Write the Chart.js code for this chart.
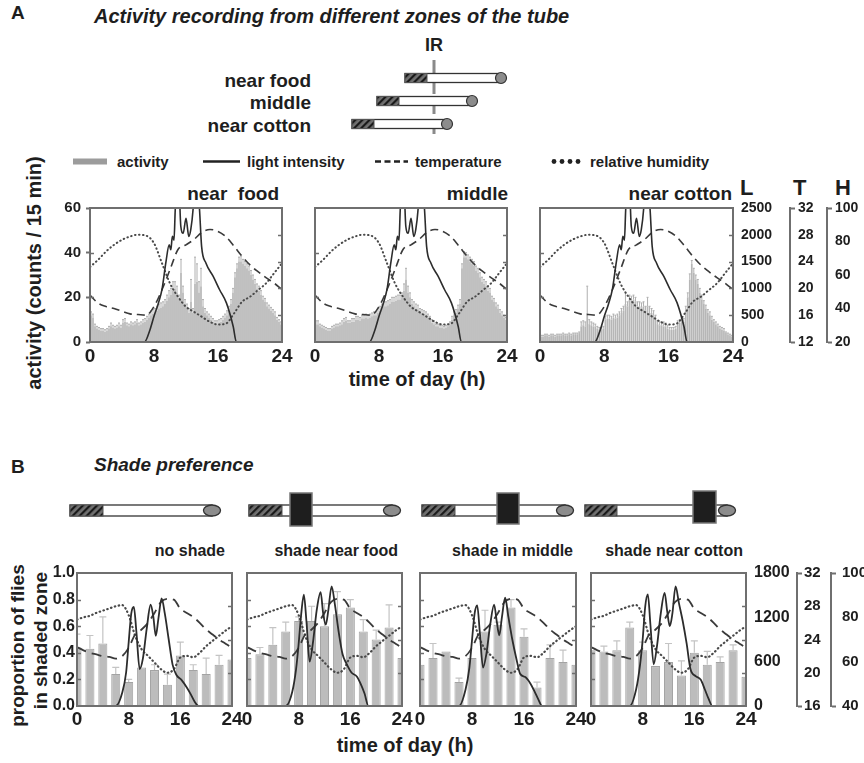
<!DOCTYPE html>
<html>
<head>
<meta charset="utf-8">
<title>Activity recording and shade preference</title>
<script src="https://cdn.jsdelivr.net/npm/chart.js"></script>
<style>
  body { margin: 0; width: 864px; height: 763px; position: relative; overflow: hidden; background: #fff;
         font-family: "Liberation Sans", Arial, sans-serif; font-weight: bold; color: #1e1e1e; }
  .t { position: absolute; line-height: 1; white-space: pre; }
  .r { text-align: right; }
  .c { text-align: center; }
  .rot { transform: rotate(-90deg); }
  canvas { position: absolute; }
  svg { position: absolute; left: 0; top: 0; }
</style>
</head>
<body>
<svg width="864" height="763">
  <defs>
    <pattern id="hatch" width="5" height="5" patternUnits="userSpaceOnUse" patternTransform="rotate(45)">
      <rect width="5" height="5" fill="#707070"/>
      <rect width="2.2" height="5" fill="#1a1a1a"/>
    </pattern>
  </defs>
  <!-- panel A tubes -->
  <line x1="434" y1="60" x2="434" y2="139" stroke="#8a8a8a" stroke-width="3" stroke-dasharray="14 6"/>
  <rect x="405" y="73.5" width="97" height="9" fill="#fff" stroke="#333" stroke-width="1.3"/>
  <rect x="405" y="73.5" width="22" height="9" fill="url(#hatch)" stroke="#555" stroke-width="1"/>
  <circle cx="501" cy="78" r="5.5" fill="#8c8c8c" stroke="#333" stroke-width="1.2"/>
  <rect x="377" y="96.5" width="95" height="9" fill="#fff" stroke="#333" stroke-width="1.3"/>
  <rect x="377" y="96.5" width="22" height="9" fill="url(#hatch)" stroke="#555" stroke-width="1"/>
  <circle cx="472" cy="101" r="5.5" fill="#8c8c8c" stroke="#333" stroke-width="1.2"/>
  <rect x="352" y="119.5" width="95" height="9" fill="#fff" stroke="#333" stroke-width="1.3"/>
  <rect x="352" y="119.5" width="22" height="9" fill="url(#hatch)" stroke="#555" stroke-width="1"/>
  <circle cx="447" cy="124" r="5.5" fill="#8c8c8c" stroke="#333" stroke-width="1.2"/>
  <!-- legend samples -->
  <rect x="73" y="158.5" width="34" height="6" fill="#9c9c9c"/>
  <line x1="203" y1="161.5" x2="240" y2="161.5" stroke="#222" stroke-width="2.5"/>
  <line x1="375" y1="161.5" x2="408" y2="161.5" stroke="#222" stroke-width="2.5" stroke-dasharray="6 3.5"/>
  <g fill="#222">
    <circle cx="554" cy="161.5" r="2.4"/><circle cx="562" cy="161.5" r="2.4"/>
    <circle cx="570" cy="161.5" r="2.4"/><circle cx="578" cy="161.5" r="2.4"/>
  </g>
  <!-- panel B tubes -->
  <g stroke-width="1.3">
    <rect x="70" y="505" width="142" height="11" fill="#fff" stroke="#333"/>
    <rect x="70" y="505" width="33" height="11" fill="url(#hatch)" stroke="#555" stroke-width="1"/>
    <ellipse cx="212" cy="510.5" rx="8.5" ry="5.5" fill="#8c8c8c" stroke="#333"/>

    <rect x="249" y="505" width="143" height="11" fill="#fff" stroke="#333"/>
    <rect x="249" y="505" width="33" height="11" fill="url(#hatch)" stroke="#555" stroke-width="1"/>
    <rect x="290" y="493" width="22" height="33" fill="#1e1e1e" stroke="#777" stroke-width="1.5"/>
    <ellipse cx="392" cy="510.5" rx="8.5" ry="5.5" fill="#8c8c8c" stroke="#333"/>

    <rect x="422" y="505" width="143" height="11" fill="#fff" stroke="#333"/>
    <rect x="422" y="505" width="33" height="11" fill="url(#hatch)" stroke="#555" stroke-width="1"/>
    <rect x="497" y="493" width="22" height="31" fill="#1e1e1e" stroke="#777" stroke-width="1.5"/>
    <ellipse cx="565" cy="510.5" rx="8.5" ry="5.5" fill="#8c8c8c" stroke="#333"/>

    <rect x="585" y="505" width="142" height="11" fill="#fff" stroke="#333"/>
    <rect x="585" y="505" width="32" height="11" fill="url(#hatch)" stroke="#555" stroke-width="1"/>
    <rect x="693" y="491" width="23" height="32" fill="#1e1e1e" stroke="#777" stroke-width="1.5"/>
    <ellipse cx="727" cy="510.5" rx="8.5" ry="5.5" fill="#8c8c8c" stroke="#333"/>
  </g>
</svg>

<!-- panel A text -->
<div class="t" style="left:11px;top:3px;font-size:19px">A</div>
<div class="t" style="left:94px;top:6px;font-size:20px;font-style:italic">Activity recording from different zones of the tube</div>
<div class="t c" style="left:384px;top:36px;width:100px;font-size:18px">IR</div>
<div class="t r" style="left:111px;top:71px;width:200px;font-size:19px">near food</div>
<div class="t r" style="left:111px;top:93px;width:200px;font-size:19px">middle</div>
<div class="t r" style="left:111px;top:116px;width:200px;font-size:19px">near cotton</div>
<div class="t" style="left:117px;top:154px;font-size:15px">activity</div>
<div class="t" style="left:247px;top:154px;font-size:15px">light intensity</div>
<div class="t" style="left:415px;top:154px;font-size:15px">temperature</div>
<div class="t" style="left:590px;top:154px;font-size:15px">relative humidity</div>
<div class="t c rot" style="left:-116px;top:263px;width:300px;font-size:20px">activity (counts / 15 min)</div>
<div class="t r" style="left:79px;top:184px;width:200px;font-size:19px">near  food</div>
<div class="t r" style="left:308px;top:184px;width:200px;font-size:19px">middle</div>
<div class="t r" style="left:532px;top:184px;width:200px;font-size:19px">near cotton</div>
<div class="t" style="left:740px;top:177px;font-size:22px">L</div>
<div class="t" style="left:793px;top:177px;font-size:22px">T</div>
<div class="t" style="left:835px;top:177px;font-size:22px">H</div>
<div class="t c" style="left:267px;top:369px;width:300px;font-size:20px">time of day (h)</div>

<!-- panel B text -->
<div class="t" style="left:11px;top:457px;font-size:19px">B</div>
<div class="t" style="left:94px;top:455px;font-size:19px;font-style:italic">Shade preference</div>
<div class="t r" style="left:25px;top:543px;width:200px;font-size:16px">no shade</div>
<div class="t r" style="left:198px;top:543px;width:200px;font-size:16px">shade near food</div>
<div class="t r" style="left:373px;top:543px;width:200px;font-size:16px">shade in middle</div>
<div class="t r" style="left:543px;top:543px;width:200px;font-size:16px">shade near cotton</div>
<div class="t c rot" style="left:-133px;top:636px;width:300px;font-size:19px">proportion of flies</div>
<div class="t c rot" style="left:-110px;top:631px;width:300px;font-size:19px">in shaded zone</div>
<div class="t c" style="left:255px;top:735px;width:300px;font-size:20px">time of day (h)</div>

<script>
// ---------- data ----------
const timeTicks = [0, 8, 16, 24];
const activityTicks = [0, 20, 40, 60];
const lightTicksA = [0, 500, 1000, 1500, 2000, 2500];
const tempTicksA = [12, 16, 20, 24, 28, 32];
const humTicksA = [20, 40, 60, 80, 100];
const propTicks = [0, 0.2, 0.4, 0.6, 0.8, 1.0];
const lightTicksB = [0, 600, 1200, 1800];
const tempTicksB = [16, 20, 24, 28, 32];
const humTicksB = [40, 60, 80, 100];

// environment, panel A (hourly)
const envHours = [0, 1, 2, 3, 4, 5, 6, 7, 8, 9, 10, 11, 12, 13, 14, 15, 16, 17, 18, 19, 20, 21, 22, 23, 24];
const tempA = [19, 17.8, 17.3, 17, 16.6, 16.2, 16.1, 16, 17.3, 19.8, 22.8, 25.8, 26.5, 27.3, 28.4, 28.8, 28.5, 27.7, 26.3, 24.8, 23.5, 22.5, 21.6, 20.8, 19.8];
const humA = [64.8, 69, 74, 78, 81, 83, 84, 83.5, 79, 67, 55, 47, 41, 38, 35, 32, 30.4, 31, 37, 44, 47, 51, 55, 61, 67];
const lightHoursA = [0, 6.8, 7.5, 8, 8.5, 9, 9.5, 9.9, 10.1, 10.3, 10.5, 10.65, 11, 11.35, 11.65, 12, 12.35, 12.6, 12.9, 13.25, 13.7, 13.95, 14.5, 15.4, 16.2, 17.05, 17.9, 18.3, 24];
const lightA = [0, 0, 230, 480, 700, 980, 1500, 1815, 1720, 1970, 1900, 2450, 3400, 2160, 2030, 2310, 1970, 2100, 2500, 3400, 2450, 1785, 1470, 1225, 975, 730, 290, 0, 0];

// activity, counts per 15 min bin (96 bins)
const actFood = [
  12, 11, 7, 6, 5.5, 5, 5, 4.5,
  5, 6, 7, 6.5, 6, 6.5, 7, 6.5,
  8.5, 9, 7.5, 7, 8, 7.5, 8, 8.5,
  7.5, 8, 8.5, 9, 10, 11, 12, 12.5,
  13, 14, 15, 15.5, 16, 17, 18.5, 20,
  21, 23, 24, 22, 19, 31, 22, 17,
  15, 13, 18, 13, 26, 27, 22, 25,
  16, 13, 12, 11, 10, 9, 8, 8,
  8.5, 9, 10, 11, 12, 14, 17, 22,
  29, 33, 36, 36, 35, 34, 33, 32,
  30, 28, 26, 24, 23, 21, 19, 18,
  16, 15, 14, 13, 12, 10, 9, 8];
const actErrFood = [
  1.5, 1.5, 1, 1, 1, 1, 1, 1,
  1, 1, 1.5, 1, 1, 1, 1.5, 1,
  1.5, 1.5, 1, 1, 1, 1, 1, 1.5,
  1, 1, 1.5, 1.5, 1.5, 1.5, 2, 2,
  2, 2, 2, 2, 2, 2, 2.5, 3,
  3, 4, 3, 3, 2, 6, 3, 2,
  2, 2, 10, 2, 12, 8, 5, 8,
  3, 2, 1.5, 1.5, 1.5, 1.5, 1.5, 1.5,
  1.5, 1.5, 1.5, 1.5, 2, 2, 2, 2,
  2, 2, 2, 2.5, 2, 2, 2, 2,
  2, 2, 2, 2, 2, 2, 1.5, 1.5,
  1.5, 1.5, 1.5, 1.5, 1.5, 1, 1, 1];
const actMiddle = [
  8, 8, 7, 6.5, 6, 5.5, 5, 5,
  6, 6.5, 7, 7, 7.5, 8, 9, 9.5,
  8.5, 8.5, 9, 9, 10, 10, 9.5, 10.5,
  10.5, 11, 10.5, 11, 11.5, 12, 12, 13,
  14, 15, 16, 16, 16.5, 17, 18, 18,
  18.5, 19, 19, 20, 23, 28, 22, 20,
  17, 16, 15, 14.5, 13.5, 13, 12.5, 12,
  11, 10, 8.5, 8, 7, 7, 6.5, 6.5,
  6, 6.5, 7, 8, 10, 12, 13, 15,
  17, 33, 38, 38, 37, 36, 35, 34,
  32, 31, 29, 27, 26, 25, 23, 22,
  19, 18, 16, 15, 13, 12, 11, 10];
const actErrMiddle = [
  1.5, 1.5, 1, 1, 1, 1, 1, 1,
  1, 1, 1, 1, 1, 1.5, 1.5, 1.5,
  1, 1, 1.5, 1.5, 1.5, 1.5, 1.5, 1.5,
  1.5, 1.5, 1.5, 1.5, 1.5, 1.5, 1.5, 2,
  2, 2, 2, 2, 2, 2, 2, 2,
  2, 2, 2, 2, 3, 5, 3, 2,
  2, 2, 2, 2, 1.5, 1.5, 1.5, 1.5,
  1.5, 1.5, 1.5, 1.5, 1, 1, 1, 1,
  1, 1, 1, 1, 1.5, 1.5, 1.5, 1.5,
  2, 2, 2.5, 2, 2, 2, 2, 2,
  2, 2, 2, 2, 2, 2, 2, 2,
  1.5, 1.5, 1.5, 1.5, 1.5, 1.5, 1, 1];
const actCotton = [
  2.5, 2.5, 3, 3, 2.5, 3, 3, 2.5,
  3, 3, 3, 3.5, 3, 3, 3.5, 3,
  3.5, 3.5, 3.5, 4, 7, 7.5, 7, 13,
  8, 7.5, 7, 7, 6, 5.5, 5.5, 6,
  10, 10.5, 10.5, 10, 11, 10.5, 11, 12,
  13, 14, 17, 16, 19, 18.5, 19, 18,
  16, 16, 15.5, 16, 14, 16, 13, 13,
  12, 10, 8, 7.5, 7.5, 7, 7, 6,
  5.5, 5.5, 5.5, 6, 8, 8.5, 9, 9,
  14, 20, 28, 35, 31, 28, 26, 22,
  19, 17, 15, 13, 12, 10, 9, 8,
  7, 6, 5.5, 5, 4, 3.5, 3, 2.5];
const actErrCotton = [
  0.5, 0.5, 0.5, 0.5, 0.5, 0.5, 0.5, 0.5,
  0.5, 0.5, 0.5, 0.5, 0.5, 0.5, 0.5, 0.5,
  0.5, 0.5, 0.5, 0.5, 2, 2, 2, 12,
  2, 1.5, 1.5, 1, 1, 1, 1, 1,
  1.5, 1.5, 1.5, 1.5, 1.5, 1.5, 1.5, 1.5,
  2, 2, 5, 2, 2, 2, 2, 2,
  2, 2, 2, 2, 2, 4, 3, 2,
  2, 2, 1.5, 1.5, 1.5, 2, 1.5, 1.5,
  1, 1, 1, 1, 1.5, 1.5, 1.5, 1.5,
  2, 2, 2.5, 1.5, 2, 2, 2, 2,
  2, 1.5, 1.5, 1.5, 1.5, 1.5, 1, 1,
  1, 1, 1, 1, 0.5, 0.5, 0.5, 0.5];

// environment, panel B
const tempB = [23.1, 22.7, 22.4, 22.2, 22.0, 21.9, 21.7, 22.0, 23.0, 24.6, 25.2, 26.0, 27.2, 28.5, 28.9, 28.8, 27.7, 27.2, 26.7, 26.0, 25.2, 24.6, 24.0, 23.5, 23.0];
const humB = [79, 80, 80.7, 82, 83, 84, 85, 85.5, 81, 71.7, 65.6, 62.6, 59.6, 56.6, 55, 56.6, 61.9, 62.6, 62, 64, 67, 69.4, 71.7, 74, 76];
const lightHoursB = [0, 6, 7, 7.6, 8, 8.4, 8.8, 9.2, 9.7, 10.2, 10.8, 11.4, 11.8, 12.2, 12.6, 13.1, 13.6, 14.2, 14.8, 15.4, 16.2, 17, 17.6, 18.2, 18.8, 24];
const lightNoShade = [0, 0, 180, 450, 860, 1250, 1340, 1000, 500, 640, 1050, 1370, 1220, 950, 1180, 1455, 1250, 900, 560, 420, 350, 250, 160, 60, 0, 0];
const lightShadeFood = [0, 0, 190, 500, 844, 1250, 1507, 1150, 600, 850, 1300, 1540, 1250, 1100, 1300, 1620, 1380, 1000, 700, 573, 450, 400, 300, 170, 0, 0];
const lightShadeMiddle = [0, 0, 220, 520, 889, 1250, 1362, 1000, 520, 700, 1100, 1371, 1150, 956, 1200, 1466, 1205, 900, 650, 437, 392, 302, 200, 90, 0, 0];
const lightShadeCotton = [0, 0, 230, 560, 900, 1350, 1510, 1100, 565, 800, 1250, 1530, 1280, 1080, 1250, 1620, 1400, 1150, 850, 500, 405, 355, 230, 100, 0, 0];

// proportion of flies in the shaded zone, 2 h bins
const shadeHours = [0, 2, 4, 6, 8, 10, 12, 14, 16, 18, 20, 22, 24];
const shadeNone = [0.44, 0.43, 0.47, 0.24, 0.18, 0.29, 0.27, 0.16, 0.38, 0.27, 0.24, 0.31, 0.35];
const shadeErrNone = [0.10, 0.10, 0.20, 0.05, 0.02, 0, 0.04, 0.08, 0.10, 0.04, 0.12, 0.07, 0];
const shadeFood = [0.36, 0.39, 0.46, 0.56, 0.64, 0.64, 0.60, 0.69, 0.74, 0.56, 0.50, 0.59, 0.36];
const shadeErrFood = [0, 0.05, 0.13, 0.07, 0.03, 0.11, 0.17, 0.17, 0.06, 0.09, 0.07, 0.17, 0];
const shadeMiddle = [0.31, 0.36, 0.41, 0.18, 0.36, 0.56, 0.61, 0.74, 0.52, 0.14, 0.36, 0.33, 0.31];
const shadeErrMiddle = [0, 0.11, 0, 0.03, 0, 0.16, 0.02, 0.06, 0.06, 0.04, 0.10, 0.09, 0];
const shadeCotton = [0.42, 0.41, 0.42, 0.59, 0.42, 0.30, 0.33, 0.23, 0.40, 0.31, 0.33, 0.42, 0.22];
const shadeErrCotton = [0, 0.04, 0.07, 0.04, 0.06, 0, 0.14, 0.11, 0.09, 0.10, 0.04, 0.04, 0];

// ---------- drawing ----------
const FONT = '"Liberation Sans", Arial, sans-serif';
const INK = '#1e1e1e';
const LINE = '#6f6f6f';
const bold = size => ({ family: FONT, size, weight: 'bold' });
const pts = (xs, ys) => ys.map((y, i) => ({ x: xs[i], y }));
const binHours = actFood.map((_, i) => i * 0.25 + 0.125);

// frame round the plot, inner tick marks, and upper error whiskers on bars
const framePlugin = {
  id: 'frame',
  afterDatasetDraw(chart, args) {
    const ds = chart.data.datasets[args.index];
    if (!ds.errors) return;
    const a = chart.chartArea, ctx = chart.ctx, ys = chart.scales.y;
    ctx.save();
    ctx.beginPath();
    ctx.rect(a.left, a.top, a.right - a.left, a.bottom - a.top);
    ctx.clip();
    ctx.strokeStyle = ds.errColor;
    ctx.lineWidth = ds.errWidth;
    args.meta.data.forEach((bar, i) => {
      const e = ds.errors[i];
      if (!e) return;
      const top = ys.getPixelForValue(ds.data[i].y + e);
      ctx.beginPath();
      ctx.moveTo(bar.x, bar.y);
      ctx.lineTo(bar.x, top);
      ctx.moveTo(bar.x - ds.cap, top);
      ctx.lineTo(bar.x + ds.cap, top);
      ctx.stroke();
    });
    ctx.restore();
  },
  afterDraw(chart, args, opts) {
    const a = chart.chartArea, ctx = chart.ctx;
    ctx.save();
    ctx.strokeStyle = LINE;
    ctx.lineWidth = 2;
    ctx.strokeRect(a.left, a.top, a.right - a.left, a.bottom - a.top);
    ctx.lineWidth = 1.5;
    [['left', 1], ['right', -1]].forEach(([side, dir]) => {
      const o = opts[side];
      if (!o) return;
      const sc = chart.scales[o.scale];
      const x = side === 'left' ? a.left : a.right;
      o.values.slice(1, -1).forEach(v => {
        const y = Math.round(sc.getPixelForValue(v)) + 0.5;
        ctx.beginPath();
        ctx.moveTo(x, y);
        ctx.lineTo(x + dir * 4, y);
        ctx.stroke();
      });
    });
    ctx.restore();
  }
};

function xAxis(size, pad, height) {
  return {
    type: 'linear', min: 0, max: 24, offset: false,
    afterBuildTicks: s => { s.ticks = timeTicks.map(v => ({ value: v })); },
    afterFit: s => { s.height = height; },
    grid: { display: false, drawTicks: false }, border: { display: false },
    ticks: { padding: pad, color: INK, font: bold(size), maxRotation: 0, autoSkip: false }
  };
}

function vAxis(position, values, o) {
  const last = values.length - 1;
  const axis = {
    type: 'linear', position, min: values[0], max: values[last],
    display: !!o.width, weight: o.weight || 0,
    afterBuildTicks: s => { s.ticks = values.map(v => ({ value: v })); },
    grid: {
      display: !!o.tick, drawOnChartArea: false, drawTicks: !!o.tick, tickLength: o.tick || 0,
      tickWidth: 2, color: LINE,
      tickColor: o.endsOnly ? (c => (c.index === 0 || c.index === last) ? LINE : 'rgba(0,0,0,0)') : LINE
    },
    border: { display: !!o.border, color: LINE, width: 2 },
    ticks: { padding: o.pad || 0, color: INK, font: bold(o.size || 14), autoSkip: false,
             callback: o.fmt || (v => String(v)) }
  };
  if (o.width) axis.afterFit = s => { s.width = o.width; };
  return axis;
}

// plot = wanted chart area on the page, m = room round it inside the canvas
function makeChart(plot, m, axesLeft, axesRight, datasets, scales, frame) {
  const c = document.createElement('canvas');
  const w = plot.w + m.l + m.r, h = plot.h + m.t + m.b;
  c.width = w;
  c.height = h;
  c.style.left = (plot.x - m.l) + 'px';
  c.style.top = (plot.y - m.t) + 'px';
  document.body.appendChild(c);
  return new Chart(c, {
    type: 'bar',
    data: { datasets },
    options: {
      responsive: false, animation: false, devicePixelRatio: 1,
      layout: { autoPadding: false,
                padding: { left: axesLeft ? 0 : m.l, right: axesRight ? 0 : m.r, top: m.t, bottom: 0 } },
      plugins: { legend: { display: false }, tooltip: { enabled: false }, frame },
      scales
    },
    plugins: [framePlugin]
  });
}

function lineSet(xs, ys, axis, color, width, dash, cap) {
  return { type: 'line', data: pts(xs, ys), yAxisID: axis, borderColor: color, borderWidth: width,
           borderDash: dash || [], borderCapStyle: cap || 'butt', pointRadius: 0, fill: false,
           cubicInterpolationMode: 'monotone', order: 1 };
}

// panel A
function activitySets(values, errors) {
  return [
    { type: 'bar', data: pts(binHours, values), errors, errColor: '#b0b0b0', errWidth: 1, cap: 1,
      backgroundColor: '#b6b6b6', barPercentage: 0.85, categoryPercentage: 1, order: 2 },
    lineSet(lightHoursA, lightA, 'yL', '#2c2c2c', 1.6),
    lineSet(envHours, tempA, 'yT', '#3a3a3a', 1.6, [8, 5]),
    lineSet(envHours, humA, 'yH', '#4a4a4a', 2, [0.5, 3.5], 'round')
  ];
}
const frameA = { left: { scale: 'y', values: activityTicks }, right: { scale: 'yT', values: tempTicksA } };
const hiddenA = () => ({ yL: vAxis('right', lightTicksA, {}), yT: vAxis('right', tempTicksA, {}), yH: vAxis('right', humTicksA, {}) });

makeChart({ x: 90, y: 208, w: 192, h: 134 }, { l: 36, r: 14, t: 22, b: 28 }, true, false,
  activitySets(actFood, actErrFood),
  Object.assign({ x: xAxis(19, 3, 28),
    y: vAxis('left', activityTicks, { width: 36, tick: 4, pad: 5, size: 15 }) }, hiddenA()),
  frameA);

makeChart({ x: 315, y: 208, w: 192, h: 134 }, { l: 14, r: 14, t: 22, b: 28 }, false, false,
  activitySets(actMiddle, actErrMiddle),
  Object.assign({ x: xAxis(19, 3, 28), y: vAxis('left', activityTicks, {}) }, hiddenA()),
  frameA);

makeChart({ x: 540, y: 208, w: 193, h: 134 }, { l: 14, r: 131, t: 22, b: 28 }, false, true,
  activitySets(actCotton, actErrCotton),
  { x: xAxis(19, 3, 28),
    y: vAxis('left', activityTicks, {}),
    yL: vAxis('right', lightTicksA, { width: 57, pad: 8, size: 14, weight: 1 }),
    yT: vAxis('right', tempTicksA, { width: 37, tick: 5, border: true, endsOnly: true, pad: 3, size: 14, weight: 2 }),
    yH: vAxis('right', humTicksA, { width: 37, tick: 5, border: true, endsOnly: true, pad: 3, size: 14, weight: 3 }) },
  frameA);

// panel B
function shadeSets(values, errors, light) {
  return [
    { type: 'bar', data: pts(shadeHours, values), errors, errColor: '#c4c4c4', errWidth: 1.2, cap: 3.5,
      backgroundColor: '#bcbcbc', borderColor: '#a3a3a3', borderWidth: 1,
      barPercentage: 0.7, categoryPercentage: 1, order: 2 },
    lineSet(lightHoursB, light, 'yL', '#2c2c2c', 1.8),
    lineSet(envHours, tempB, 'yT', '#3a3a3a', 1.8, [10, 6]),
    lineSet(envHours, humB, 'yH', '#4a4a4a', 2.2, [0.5, 3.5], 'round')
  ];
}
const frameB = { left: { scale: 'y', values: propTicks }, right: { scale: 'yT', values: tempTicksB } };
const hiddenB = () => ({ yL: vAxis('right', lightTicksB, {}), yT: vAxis('right', tempTicksB, {}), yH: vAxis('right', humTicksB, {}) });

makeChart({ x: 77, y: 573, w: 155, h: 133 }, { l: 32, r: 14, t: 22, b: 26 }, true, false,
  shadeSets(shadeNone, shadeErrNone, lightNoShade),
  Object.assign({ x: xAxis(19, 2, 26),
    y: vAxis('left', propTicks, { width: 32, pad: 2, size: 16, fmt: v => v.toFixed(1) }) }, hiddenB()),
  frameB);

makeChart({ x: 247, y: 573, w: 155, h: 133 }, { l: 14, r: 14, t: 22, b: 26 }, false, false,
  shadeSets(shadeFood, shadeErrFood, lightShadeFood),
  Object.assign({ x: xAxis(19, 2, 26), y: vAxis('left', propTicks, {}) }, hiddenB()),
  frameB);

makeChart({ x: 420, y: 573, w: 156, h: 133 }, { l: 14, r: 14, t: 22, b: 26 }, false, false,
  shadeSets(shadeMiddle, shadeErrMiddle, lightShadeMiddle),
  Object.assign({ x: xAxis(19, 2, 26), y: vAxis('left', propTicks, {}) }, hiddenB()),
  frameB);

makeChart({ x: 591, y: 573, w: 155, h: 133 }, { l: 14, r: 118, t: 22, b: 26 }, false, true,
  shadeSets(shadeCotton, shadeErrCotton, lightShadeCotton),
  { x: xAxis(19, 2, 26),
    y: vAxis('left', propTicks, {}),
    yL: vAxis('right', lightTicksB, { width: 51, pad: 8, size: 16, weight: 1 }),
    yT: vAxis('right', tempTicksB, { width: 34, tick: 5, border: true, endsOnly: true, pad: 2, size: 15, weight: 2 }),
    yH: vAxis('right', humTicksB, { width: 33, tick: 5, border: true, endsOnly: true, pad: 6, size: 15, weight: 3 }) },
  frameB);
</script>
</body>
</html>
